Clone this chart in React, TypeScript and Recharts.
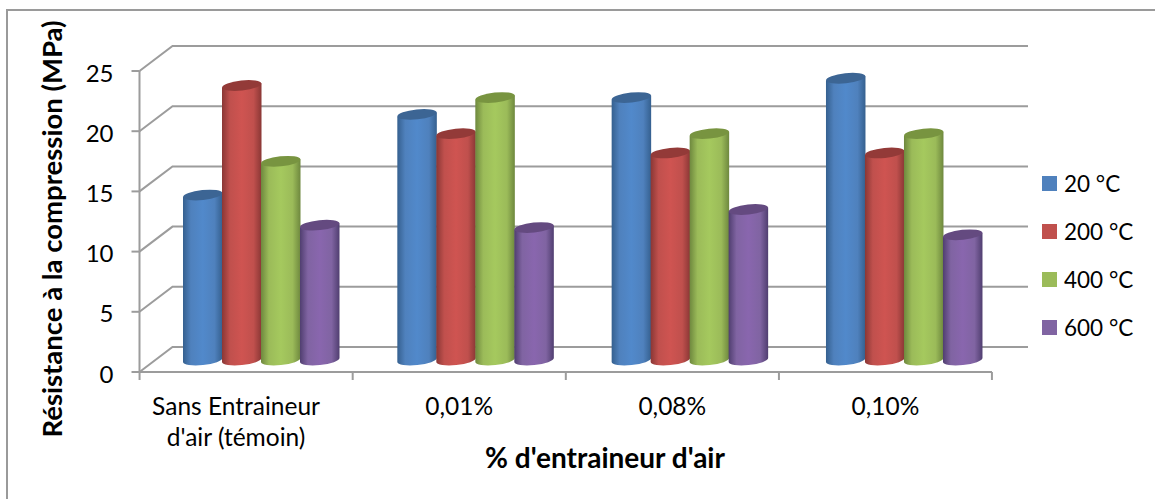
import { BarChart, Bar, XAxis, YAxis, CartesianGrid, Legend, Label } from 'recharts';

const CATEGORIES = ["Sans Entraineur|d'air (témoin)", '0,01%', '0,08%', '0,10%'];
const TEMP_20 = [13.7, 20.4, 21.8, 23.4];
const TEMP_200 = [22.8, 18.8, 17.2, 17.2];
const TEMP_400 = [16.5, 21.8, 18.8, 18.8];
const TEMP_600 = [11.2, 11.0, 12.5, 10.4];
const Y_TICKS = [0, 5, 10, 15, 20, 25];

const SERIES = [
  { key: 't20', name: '20 °C', fill: '#4f81bd', edge: '#35608f', light: '#5189cb', top: '#3c6594' },
  { key: 't200', name: '200 °C', fill: '#c0504d', edge: '#8a3735', light: '#cf5451', top: '#933a38' },
  { key: 't400', name: '400 °C', fill: '#9bbb59', edge: '#6e883e', light: '#a5c95e', top: '#789440' },
  { key: 't600', name: '600 °C', fill: '#8064a2', edge: '#503e70', light: '#8966ae', top: '#644a80' },
];

const chartData = CATEGORIES.map((c, i) => ({
  category: c,
  t20: TEMP_20[i],
  t200: TEMP_200[i],
  t400: TEMP_400[i],
  t600: TEMP_600[i],
}));

const FONT = 'Lato, sans-serif';
const GREY = '#9c9c9c';

// fake 3D: the back wall sits up and right of the front axes, bars stand halfway in
const WALL_DX = 33;
const WALL_DY = -25;
const BAR_DX = 15.5;
const BAR_DX_STEP = 1.2; // perspective pushes later groups a little further right
const BAR_DY = -12;
const TILT = 2;
const ELLIPSE_RY = 5;
const BAND = 213;

function WallLine(props: any) {
  const { x1, x2, y1 } = props;
  const bx = x1 + WALL_DX;
  const by = y1 + WALL_DY;
  return (
    <path
      d={`M${x1},${y1} L${bx},${by} L${x2 + 36},${by}`}
      fill="none"
      stroke={GREY}
      strokeWidth={2}
    />
  );
}

function Cylinder(props: any) {
  const { x, y, width, height, index, seriesKey, topColor } = props;
  const left = x + BAR_DX + BAR_DX_STEP * index;
  const right = left + width + 0.5;
  const topC = y + BAR_DY;
  const baseC = y + height + BAR_DY;
  const rx = (right - left) / 2;
  const d =
    `M${left},${topC + TILT} L${left},${baseC + TILT} ` +
    `A${rx},${ELLIPSE_RY} -6 0 0 ${right},${baseC - TILT} ` +
    `L${right},${topC - TILT} Z`;
  return (
    <g>
      <path d={d} fill={`url(#grad-${seriesKey})`} />
      <ellipse
        cx={left + rx}
        cy={topC}
        rx={rx}
        ry={ELLIPSE_RY}
        fill={topColor}
        transform={`rotate(-6 ${left + rx} ${topC})`}
      />
    </g>
  );
}

// y arrives already past the default tick length and margin, so the tick mark ends there
function CategoryTick(props: any) {
  const { x, y, payload, index } = props;
  const lines: string[] = String(payload.value).split('|');
  const tx = index === 0 ? x - 10 : x;
  return (
    <g>
      <line x1={x - BAND / 2} x2={x - BAND / 2} y1={y - 8} y2={y} stroke={GREY} strokeWidth={2} />
      {index === CATEGORIES.length - 1 && (
        <line x1={x + BAND / 2} x2={x + BAND / 2} y1={y - 8} y2={y} stroke={GREY} strokeWidth={2} />
      )}
      {lines.map((l, i) => (
        <text key={l} x={tx} y={415 + i * 31} textAnchor="middle" fontFamily={FONT} fontSize={24.5} fill="#000">
          {l}
        </text>
      ))}
    </g>
  );
}

function SideLegend({ payload }: any) {
  return (
    <div style={{ position: 'absolute', left: 1042, top: 159 }}>
      {(payload || []).map((p: any) => (
        <div
          key={p.value}
          style={{ display: 'flex', alignItems: 'center', height: 48, fontFamily: FONT, fontSize: 22.5, color: '#000' }}
        >
          <span style={{ width: 15, height: 15, background: p.color, marginRight: 7, flex: 'none' }} />
          <span style={{ whiteSpace: 'nowrap' }}>{p.value}</span>
        </div>
      ))}
    </div>
  );
}

export default function App() {
  return (
    <div style={{ position: 'absolute', left: 0, top: 0, width: 1155, height: 499, overflow: 'hidden', background: '#fff' }}>
      <div style={{ position: 'absolute', left: 6, top: 9, width: 1300, height: 700, border: '2px solid #9a9a9a' }} />
      <BarChart
        width={1155}
        height={499}
        data={chartData}
        barCategoryGap={28}
        barGap={0}
        margin={{ top: 71, right: 163, bottom: 0, left: 0 }}
      >
        <defs>
          {SERIES.map(s => (
            <linearGradient key={s.key} id={`grad-${s.key}`} x1="0" y1="0" x2="1" y2="0">
              <stop offset="0" stopColor={s.edge} />
              <stop offset="0.2" stopColor={s.fill} />
              <stop offset="0.5" stopColor={s.light} />
              <stop offset="0.8" stopColor={s.fill} />
              <stop offset="1" stopColor={s.edge} />
            </linearGradient>
          ))}
        </defs>
        <CartesianGrid horizontal={WallLine as any} vertical={false} />
        <XAxis
          dataKey="category"
          height={127}
          interval={0}
          axisLine={{ stroke: GREY, strokeWidth: 2 }}
          tickLine={false}
          tick={CategoryTick as any}
        >
          <Label
            content={() => (
              <text x={605} y={468} textAnchor="middle" fontFamily={FONT} fontSize={28} fontWeight={700} fill="#000">
                % d'entraineur d'air
              </text>
            )}
          />
        </XAxis>
        <YAxis
          width={139.5}
          domain={[0, 25]}
          ticks={Y_TICKS}
          interval={0}
          axisLine={{ stroke: GREY, strokeWidth: 2 }}
          tickLine={{ stroke: GREY, strokeWidth: 2 }}
          tickSize={8}
          tickMargin={18}
          tick={{ fontFamily: FONT, fontSize: 24, fill: '#000', dy: 2 }}
        >
          <Label
            content={() => (
              <text
                transform="translate(62,229) rotate(-90)"
                textAnchor="middle"
                fontFamily={FONT}
                fontSize={27.5}
                fontWeight={700}
                fill="#000"
              >
                Résistance à la compression (MPa)
              </text>
            )}
          />
        </YAxis>
        <Legend content={SideLegend as any} wrapperStyle={{ left: 0, top: 0, width: 0, height: 0 }} />
        {SERIES.map(s => (
          <Bar
            key={s.key}
            dataKey={s.key}
            name={s.name}
            fill={s.fill}
            isAnimationActive={false}
            shape={(p: any) => <Cylinder {...p} seriesKey={s.key} topColor={s.top} />}
          />
        ))}
      </BarChart>
    </div>
  );
}
